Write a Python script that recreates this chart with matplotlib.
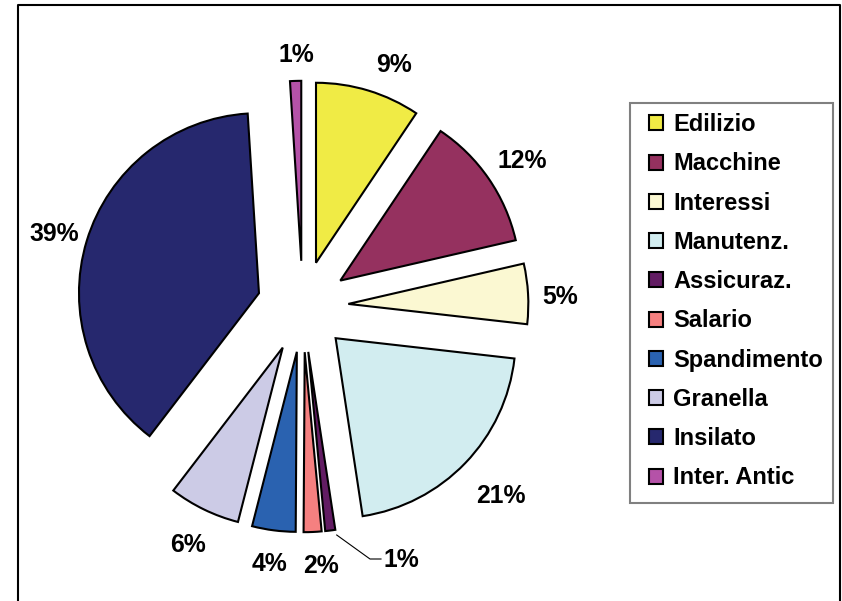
import matplotlib
matplotlib.use("Agg")
import matplotlib.pyplot as plt
from matplotlib.lines import Line2D
from matplotlib.patches import Rectangle

categories = ["Edilizio", "Macchine", "Interessi", "Manutenz.", "Assicuraz.",
              "Salario", "Spandimento", "Granella", "Insilato", "Inter. Antic"]
# shares in percent (labels show them rounded)
values = [9.4, 12.0, 5.4, 20.8, 0.9, 1.6, 3.9, 6.4, 38.6, 1.0]
colors = ["#F0EB45", "#95315F", "#FBF8D2", "#D2EDF0", "#621C63",
          "#F58080", "#2A62B0", "#CCCBE6", "#26286E", "#B552A8"]
# label anchor points (pixel x, baseline y from top) as placed in the original
label_pos = [(394, 72), (522.5, 168), (560.5, 304), (501, 503), (401.5, 567),
             (321, 573), (270, 571), (188, 552), (54.5, 241), (296, 62)]

plt.rcParams['font.family'] = ['Liberation Sans', 'DejaVu Sans']
W, H = 842, 601
fig = plt.figure(figsize=(W / 100, H / 100), dpi=100)
ax = fig.add_axes([0, 0, 1, 1])

R = 180
cx, cy = 302.7, H - 306.5
wedges, texts, autotexts = ax.pie(
    values, colors=colors, startangle=90, counterclock=False,
    explode=[45.7] * len(values), center=(cx, cy), radius=R,
    autopct=lambda p: f"{p:.0f}%", pctdistance=1.2,
    wedgeprops=dict(edgecolor="black", linewidth=1.5),
    textprops=dict(fontsize=17.8, fontweight="bold", color="black"))
ax.set_xlim(0, W)
ax.set_ylim(0, H)
ax.set_aspect("equal")
ax.axis("off")

for t, (lx, ly) in zip(autotexts, label_pos):
    t.set_position((lx, H - ly))
    t.set_ha("center")
    t.set_va("baseline")

# leader line for the small Assicuraz. slice
ax.add_line(Line2D([336.7, 370, 381], [H - 535, H - 559, H - 559],
                   color="black", linewidth=0.8))

leg = ax.legend(wedges, categories, loc="upper left",
                bbox_to_anchor=(642 / W, 1 - 106 / H), bbox_transform=fig.transFigure,
                prop=dict(size=17, weight="bold"), frameon=False,
                handlelength=0.6, handleheight=0.6,
                handletextpad=0.42, labelspacing=0.689, borderpad=0.3,
                borderaxespad=0)
fig.add_artist(Rectangle((630 / W, 1 - 503 / H), 203 / W, 400 / H,
                         transform=fig.transFigure, fill=False,
                         edgecolor="#808080", linewidth=1.5))

# outer chart frame
fig.add_artist(Line2D([18 / W, 18 / W, 840 / W, 840 / W],
                      [0, 1 - 5 / H, 1 - 5 / H, 0],
                      transform=fig.transFigure, color="black", linewidth=1.5))

fig.savefig("out.png", dpi=100)
